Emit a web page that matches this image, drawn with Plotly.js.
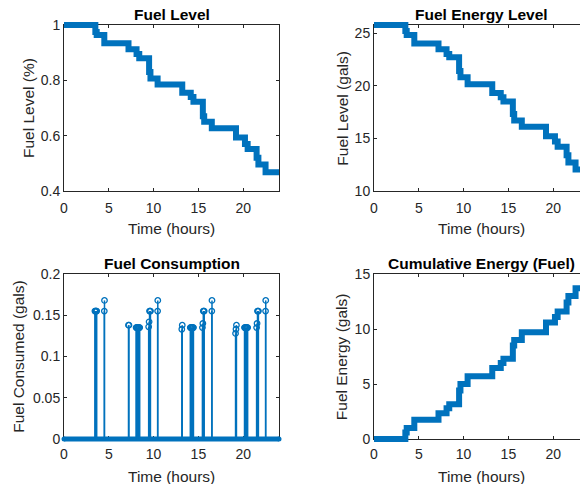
<!DOCTYPE html>
<html>
<head>
<meta charset="utf-8">
<script src="https://cdn.plot.ly/plotly-3.0.1.min.js"></script>
<style>
html,body{margin:0;padding:0;overflow:hidden;background:#fff;width:580px;height:484px}
#chart{width:600px;height:484px}
</style>
</head>
<body>
<div id="chart"></div>
<script>
// ---------------- data ----------------
const xTickVals = [0, 5, 10, 15, 20];
const timeSpan = [0, 24];
const zeroLine = [0, 0];

// step breakpoints (time in hours) shared by the three level curves
const levelTime = [0, 3.5, 3.65, 4.5, 7.2, 8.1, 8.4, 9.5, 9.65, 10.45, 13.2, 14.15, 14.45, 15.5, 15.65, 16.5, 19.2, 20.2, 20.5, 21.5, 21.7, 22.5, 24];
const fuelLevelPct = [1.0, 0.975, 0.964, 0.934, 0.912, 0.895, 0.880, 0.830, 0.807, 0.785, 0.755, 0.740, 0.723, 0.670, 0.650, 0.627, 0.593, 0.570, 0.552, 0.520, 0.496, 0.468, 0.468];
const fuelLevelGals = [25.76, 25.2, 24.8, 24.0, 23.45, 23.0, 22.7, 21.4, 20.8, 20.13, 19.3, 18.9, 18.5, 17.3, 16.7, 16.1, 15.2, 14.7, 14.2, 13.4, 12.7, 12.05, 12.05];
const cumulativeGals = [0, 0.6, 1.0, 1.75, 2.35, 2.8, 3.15, 4.4, 5.0, 5.7, 6.45, 6.9, 7.3, 8.5, 9.0, 9.7, 10.6, 11.1, 11.6, 12.4, 13.0, 13.7, 13.7];

// fuel consumption stems (non-zero samples)
const stemTime = [3.45, 3.5, 3.55, 3.6, 3.65,
  4.5, 4.52,
  7.2, 7.25,
  8.05, 8.1, 8.15, 8.2, 8.25, 8.3, 8.35, 8.4, 8.45,
  9.45, 9.5, 9.55, 9.6, 9.65,
  10.45, 10.47,
  13.15, 13.2,
  14.1, 14.15, 14.2, 14.25, 14.3, 14.35, 14.4, 14.45,
  15.45, 15.5, 15.55, 15.6, 15.65,
  16.5, 16.52,
  19.15, 19.2, 19.25,
  20.15, 20.2, 20.25, 20.3, 20.35, 20.4, 20.45, 20.5,
  21.5, 21.55, 21.6, 21.65, 21.7,
  22.5, 22.52];
const stemGals = [0.155, 0.155, 0.155, 0.155, 0.155,
  0.155, 0.168,
  0.138, 0.138,
  0.135, 0.135, 0.135, 0.135, 0.135, 0.135, 0.135, 0.135, 0.135,
  0.136, 0.142, 0.155, 0.155, 0.155,
  0.155, 0.168,
  0.133, 0.138,
  0.135, 0.135, 0.135, 0.135, 0.135, 0.135, 0.135, 0.135,
  0.135, 0.140, 0.155, 0.155, 0.155,
  0.155, 0.168,
  0.128, 0.133, 0.138,
  0.135, 0.135, 0.135, 0.135, 0.135, 0.135, 0.135, 0.135,
  0.135, 0.140, 0.155, 0.155, 0.155,
  0.155, 0.168];

const titles = ['Fuel Level', 'Fuel Energy Level', 'Fuel Consumption', 'Cumulative Energy (Fuel)'];
const yTitles = ['Fuel Level (%)', 'Fuel Level (gals)', 'Fuel Consumed (gals)', 'Fuel Energy (gals)'];
const xTitle = 'Time (hours)';
const yRanges = [[0.4, 1], [10, 25.76], [0, 0.2], [0, 15]];
const yTickVals = [[0.4, 0.6, 0.8, 1], [10, 15, 20, 25], [0, 0.05, 0.1, 0.15, 0.2], [0, 5, 10, 15]];

// ---------------- layout geometry ----------------
const W = 600, H = 484;
const boxes = [ // left, right, top, bottom in px
  [64, 279, 25, 191],
  [374, 589, 25, 191],
  [64, 279, 274, 439],
  [374, 589, 274, 439]
];
const xLabelGap = [4, 4, 2, 2];
const yTitleX = [28, 341.7, 18.3, 341.7];
const PAD = 6;
const BLUE = '#0072BD';
const AX = '#262626';
const FONT = '"Liberation Sans", Arial, Helvetica, sans-serif';

const layout = {
  width: W, height: H,
  margin: {l: 0, r: 0, t: 0, b: 0, pad: 0},
  paper_bgcolor: '#fff', plot_bgcolor: 'rgba(0,0,0,0)',
  showlegend: false,
  font: {family: FONT, color: AX},
  annotations: []
};

const data = [];

boxes.forEach((b, i) => {
  const n = i + 1, m = i + 5;
  const [l, r, t, bt] = b;
  const xr = timeSpan, yr = yRanges[i];
  layout['xaxis' + n] = {
    domain: [l / W, r / W], anchor: 'y' + n, range: xr,
    showline: true, linecolor: AX, linewidth: 1, mirror: 'ticks',
    ticks: 'inside', ticklen: 3, tickcolor: AX, tickwidth: 1,
    ticklabelstandoff: xLabelGap[i],
    tickvals: xTickVals, tickfont: {size: 14, color: AX, family: FONT},
    showgrid: false, zeroline: false, fixedrange: true
  };
  layout['yaxis' + n] = {
    domain: [1 - bt / H, 1 - t / H], anchor: 'x' + n, range: yr,
    showline: true, linecolor: AX, linewidth: 1, mirror: 'ticks',
    ticks: 'inside', ticklen: 3, tickcolor: AX, tickwidth: 1,
    tickvals: yTickVals[i], tickfont: {size: 14, color: AX, family: FONT},
    showgrid: false, zeroline: false, fixedrange: true
  };
  // empty trace so the framed subplot is drawn
  data.push({x: [], y: [], xaxis: 'x' + n, yaxis: 'y' + n, type: 'scatter', mode: 'lines', hoverinfo: 'skip'});
  // invisible data axes, a few px larger so thick lines are not clipped at the frame
  const xs = (xr[1] - xr[0]) / (r - l), ys = (yr[1] - yr[0]) / (bt - t);
  layout['xaxis' + m] = {
    domain: [(l - PAD) / W, (r + PAD) / W], anchor: 'y' + m,
    range: [xr[0] - PAD * xs, xr[1] + PAD * xs], visible: false, fixedrange: true
  };
  layout['yaxis' + m] = {
    domain: [1 - (bt + PAD) / H, 1 - (t - PAD) / H], anchor: 'x' + m,
    range: [yr[0] - PAD * ys, yr[1] + PAD * ys], visible: false, fixedrange: true
  };
  const cx = (l + r) / 2 / W;
  layout.annotations.push({
    text: '<b>' + titles[i] + '</b>', xref: 'paper', yref: 'paper',
    x: cx, y: 1 - (t - 11) / H, xanchor: 'center', yanchor: 'middle',
    showarrow: false, font: {size: 15.5, color: '#000', family: FONT}
  });
  layout.annotations.push({
    text: xTitle, xref: 'paper', yref: 'paper',
    x: cx, y: 1 - (bt + 37) / H, xanchor: 'center', yanchor: 'middle',
    showarrow: false, font: {size: 15.5, color: AX, family: FONT}
  });
  layout.annotations.push({
    text: yTitles[i], xref: 'paper', yref: 'paper', textangle: -90,
    x: yTitleX[i] / W, y: 1 - (t + bt) / 2 / H, xanchor: 'center', yanchor: 'middle',
    showarrow: false, font: {size: 15.5, color: AX, family: FONT}
  });
});

// stems as segments
const stemX = [], stemY = [];
stemTime.forEach((t, k) => { stemX.push(t, t, null); stemY.push(0, stemGals[k], null); });

const stepLine = (y, ax) => ({
  x: levelTime, y: y, xaxis: 'x' + ax, yaxis: 'y' + ax, type: 'scatter', mode: 'lines',
  line: {color: BLUE, width: 6, shape: 'hv'}, hoverinfo: 'skip'
});

data.push(
  stepLine(fuelLevelPct, 5),
  stepLine(fuelLevelGals, 6),
  {x: timeSpan, y: zeroLine, xaxis: 'x7', yaxis: 'y7', type: 'scatter', mode: 'lines+markers',
   line: {color: BLUE, width: 5}, marker: {color: BLUE, size: 5}, hoverinfo: 'skip'},
  {x: stemX, y: stemY, xaxis: 'x7', yaxis: 'y7', type: 'scatter', mode: 'lines',
   line: {color: BLUE, width: 1.5}, connectgaps: false, hoverinfo: 'skip'},
  {x: stemTime, y: stemGals, xaxis: 'x7', yaxis: 'y7', type: 'scatter', mode: 'markers',
   marker: {symbol: 'circle-open', color: BLUE, size: 5.5, line: {width: 1.3, color: BLUE}}, hoverinfo: 'skip'},
  stepLine(cumulativeGals, 8)
);

Plotly.newPlot('chart', data, layout, {staticPlot: true, displayModeBar: false, responsive: false});
</script>
</body>
</html>
